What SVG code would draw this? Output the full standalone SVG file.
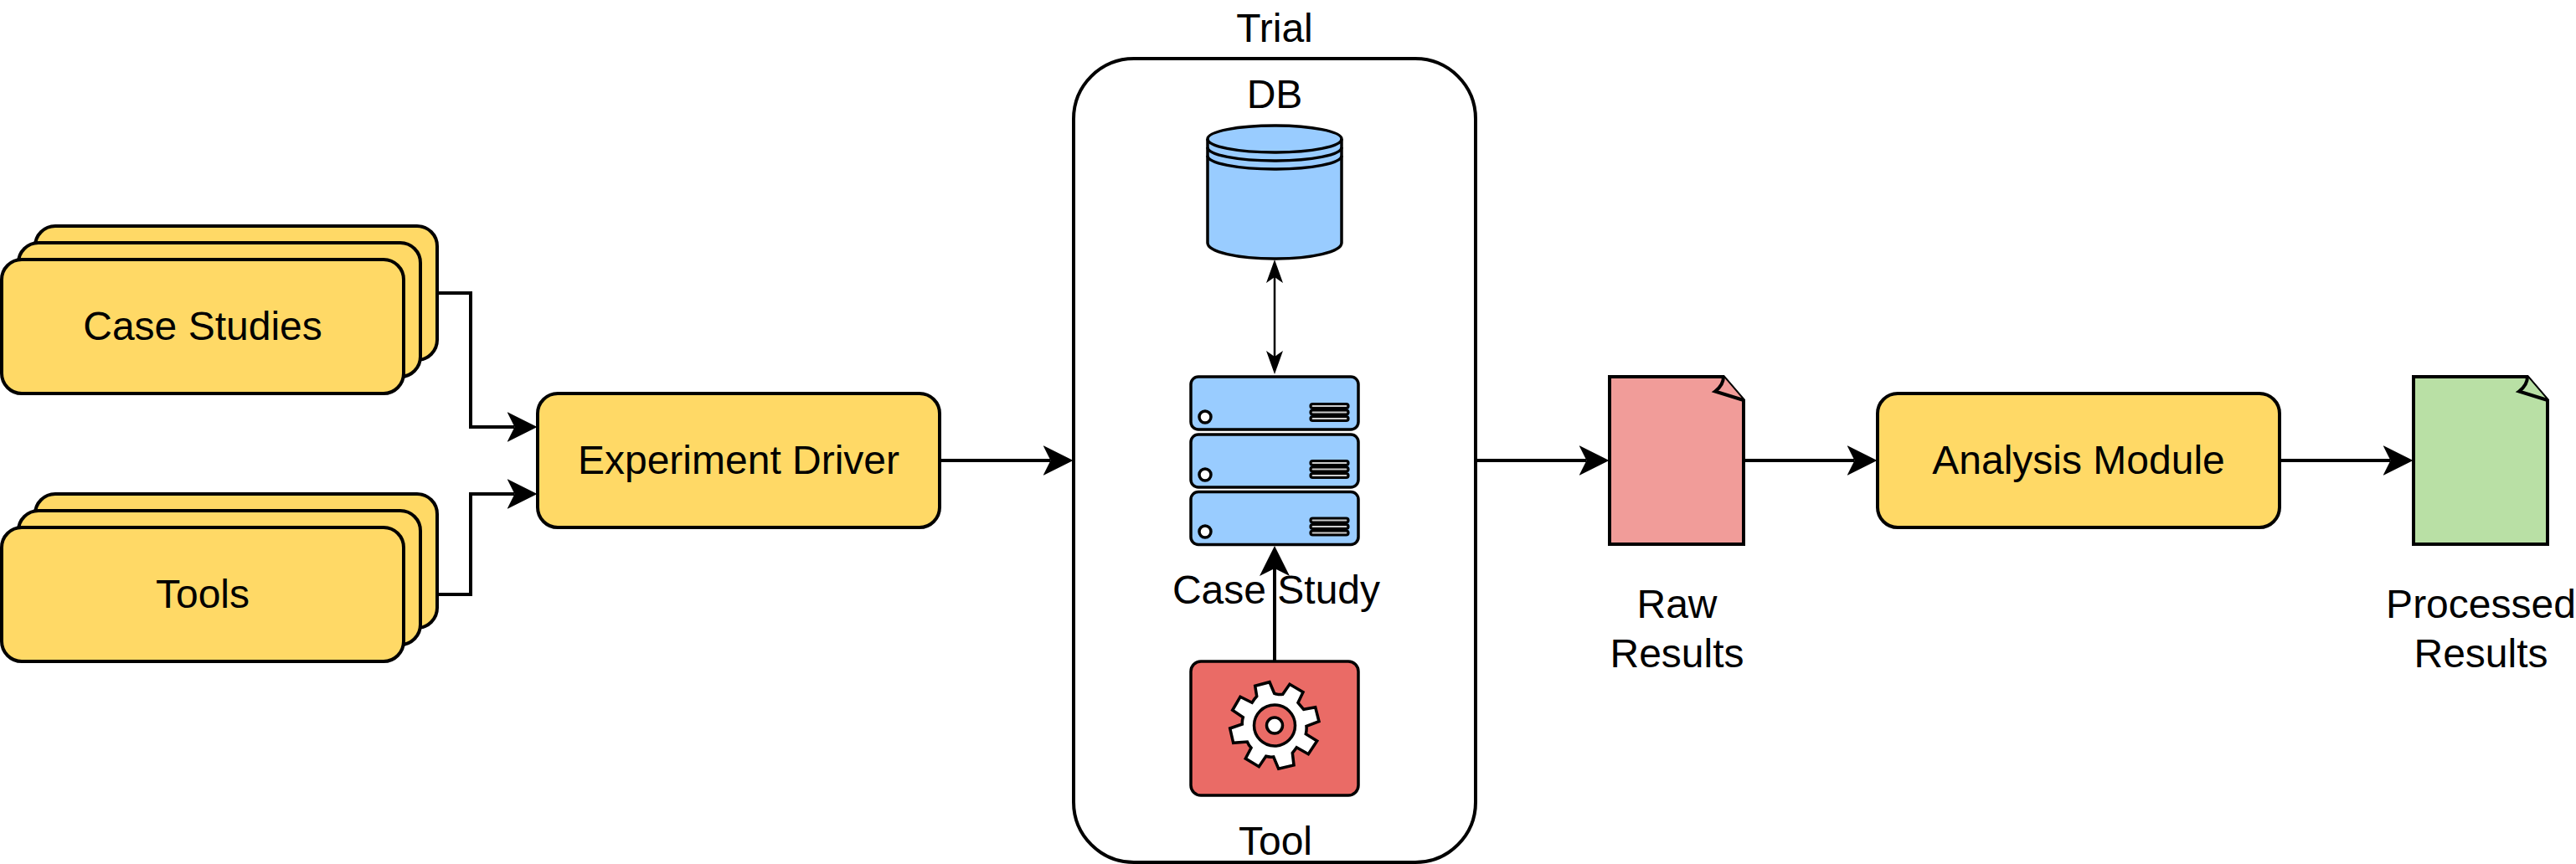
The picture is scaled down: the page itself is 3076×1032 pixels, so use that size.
<svg xmlns="http://www.w3.org/2000/svg" width="3076" height="1032" viewBox="0 0 3076 1032">
<style>
text{font-family:"Liberation Sans",Arial,sans-serif;font-size:48px;fill:#000;text-anchor:middle}
.y{fill:#FFD966;stroke:#000;stroke-width:4}
.b{fill:#99CCFF;stroke:#000;stroke-width:3.5}
.w{fill:#fff;stroke:#000;stroke-width:3.5}
.bar{fill:#ccc;stroke:#000;stroke-width:3.2}
.c{fill:none;stroke:#000;stroke-width:4}
.doc{stroke:#000;stroke-width:4;stroke-linejoin:miter}
</style>
<defs>
<marker id="big" markerUnits="userSpaceOnUse" markerWidth="36" markerHeight="36" viewBox="0 0 36 36" refX="9" refY="18" orient="auto-start-reverse"><path d="M0 0L36 18L0 36L9 18Z" fill="#000"/></marker>
<marker id="small" markerUnits="userSpaceOnUse" markerWidth="28" markerHeight="20" viewBox="0 0 28 20" refX="7" refY="10" orient="auto-start-reverse"><path d="M0 0L28 10L0 20L7 10Z" fill="#000"/></marker>
</defs>
<rect width="3076" height="1032" fill="#fff"/>
<g id="case-studies">
<rect class="y" x="42" y="270" width="480" height="160" rx="24"/>
<rect class="y" x="22" y="290" width="480" height="160" rx="24"/>
<rect class="y" x="2" y="310" width="480" height="160" rx="24"/>
<text x="242" y="406">Case Studies</text>
</g>
<g id="tools">
<rect class="y" x="42" y="590" width="480" height="160" rx="24"/>
<rect class="y" x="22" y="610" width="480" height="160" rx="24"/>
<rect class="y" x="2" y="630" width="480" height="160" rx="24"/>
<text x="242" y="726">Tools</text>
</g>
<g id="experiment-driver">
<rect class="y" x="642" y="470" width="480" height="160" rx="24"/>
<text x="882" y="566">Experiment Driver</text>
</g>
<g id="trial">
<rect x="1282" y="70" width="480" height="960" rx="72" fill="#fff" stroke="#000" stroke-width="4"/>
<text x="1522" y="50">Trial</text>
</g>
<g id="db">
<path class="b" d="M1442 166C1442 157 1478 150 1522 150C1566 150 1602 157 1602 166V290C1602 301 1566 309 1522 309C1478 309 1442 301 1442 290Z"/>
<path class="b" style="fill:none" d="M1442 166C1442 175 1478 182 1522 182C1566 182 1602 175 1602 166M1442 176C1442 185 1478 192 1522 192C1566 192 1602 185 1602 176M1442 186C1442 195 1478 202 1522 202C1566 202 1602 195 1602 186"/>
<text x="1522" y="129">DB</text>
</g>
<g id="case-study">
<rect class="b" x="1422" y="450" width="200" height="63" rx="9"/>
<circle class="w" cx="1439" cy="498" r="7"/>
<rect class="bar" x="1565" y="482.500" width="45" height="5" rx="2.500"/>
<rect class="bar" x="1565" y="490" width="45" height="5" rx="2.500"/>
<rect class="bar" x="1565" y="497.500" width="45" height="5" rx="2.500"/>
<rect class="b" x="1422" y="519" width="200" height="63" rx="9"/>
<circle class="w" cx="1439" cy="567" r="7"/>
<rect class="bar" x="1565" y="550.500" width="45" height="5" rx="2.500"/>
<rect class="bar" x="1565" y="558" width="45" height="5" rx="2.500"/>
<rect class="bar" x="1565" y="565.500" width="45" height="5" rx="2.500"/>
<rect class="b" x="1422" y="587.500" width="200" height="63" rx="9"/>
<circle class="w" cx="1439" cy="635" r="7"/>
<rect class="bar" x="1565" y="619" width="45" height="5" rx="2.500"/>
<rect class="bar" x="1565" y="626.500" width="45" height="5" rx="2.500"/>
<rect class="bar" x="1565" y="634" width="45" height="5" rx="2.500"/>
<text x="1524" y="721">Case Study</text>
</g>
<g id="tool">
<rect x="1422" y="790" width="200" height="160" rx="12" fill="#EA6B66" stroke="#000" stroke-width="3.5"/>
<path class="w" d="M1498.700 819.300L1516 814.700L1521.700 828.300Q1526.700 830 1531.700 829.300L1540 817.300L1556 826.700L1550 839.300Q1553 843 1556.700 847.300L1570.700 844.700L1575 861.700L1560 867.300Q1560.500 872 1559.300 876.700L1572.700 885L1562.300 900.700L1548.300 892.700Q1546 896 1543.300 899.300L1545 914L1526.700 918.300L1520.700 904Q1516 904.500 1511.700 903.300L1503.300 915.700L1487.300 906L1494 893.300Q1491 890 1489.300 886L1472.700 887.300L1468.700 870L1483.300 865Q1483 861 1484.300 856.700L1471.700 848.300L1481 832.300L1495 839.300Q1497.500 835 1500.700 831.700Z"/>
<circle cx="1522" cy="866.500" r="24.500" fill="#EA6B66" stroke="#000" stroke-width="3.500"/>
<circle class="w" cx="1522" cy="866.500" r="9.500"/>
<text x="1523" y="1021">Tool</text>
</g>
<g id="raw-results">
<path class="doc" fill="#F19C99" d="M1922 450H2058L2082 478V650H1922Z"/>
<path class="doc" fill="#F19C99" d="M2058 450Q2058 460 2048 467.500L2082 478"/>
<text x="2002.500" y="738">Raw</text>
<text x="2002.500" y="797">Results</text>
</g>
<g id="analysis-module">
<rect class="y" x="2242" y="470" width="480" height="160" rx="24"/>
<text x="2482" y="566">Analysis Module</text>
</g>
<g id="processed-results">
<path class="doc" fill="#B9E0A5" d="M2882 450H3018L3042 478V650H2882Z"/>
<path class="doc" fill="#B9E0A5" d="M3018 450Q3018 460 3008 467.500L3042 478"/>
<text x="2962.500" y="738">Processed</text>
<text x="2962.500" y="797">Results</text>
</g>
<g id="connectors">
<path class="c" d="M522 350H562V510H614.500" marker-end="url(#big)"/>
<path class="c" d="M522 710H562V590H614.500" marker-end="url(#big)"/>
<path class="c" d="M1122 550H1254.500" marker-end="url(#big)"/>
<path class="c" d="M1762 550H1894.500" marker-end="url(#big)"/>
<path class="c" d="M2082 550H2214.500" marker-end="url(#big)"/>
<path class="c" d="M2722 550H2854.500" marker-end="url(#big)"/>
<path class="c" d="M1522 790V679" marker-end="url(#big)"/>
<path class="c" style="stroke-width:2.500" d="M1522 331V426" marker-start="url(#small)" marker-end="url(#small)"/>
</g>
</svg>
